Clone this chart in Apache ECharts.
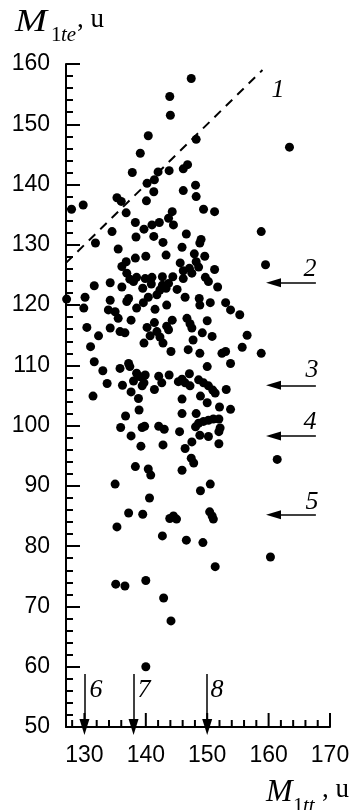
<!DOCTYPE html>
<html>
<head>
<meta charset="utf-8">
<script src="https://cdn.jsdelivr.net/npm/echarts@6/dist/echarts.min.js"></script>
<style>
    html, body { margin: 0; padding: 0; background: #fff; }
    #chart { width: 355px; height: 810px; }
</style>
</head>
<body>
<div id="chart"></div>
<script>
// M1tt (x) , M1te (y)
const points = [
    [147.4, 157.6], [143.9, 154.6], [144.0, 151.5], [140.4, 148.1], [148.2, 147.5], [163.4, 146.2],
    [139.1, 145.2], [137.8, 142.0], [142.0, 142.1], [143.8, 142.3], [146.1, 142.6], [146.8, 143.3],
    [140.2, 140.2], [141.4, 140.8], [141.3, 138.8], [146.1, 139.0], [148.1, 139.9], [148.2, 138.0],
    [135.3, 137.8], [136.0, 137.2], [140.1, 137.3], [127.9, 135.9], [129.8, 136.6], [149.4, 135.9],
    [151.2, 135.5], [136.8, 135.3], [144.3, 135.5], [143.7, 134.4], [142.2, 133.7], [144.5, 133.3],
    [138.3, 133.7], [141.0, 133.3], [139.7, 132.6], [134.5, 132.2], [158.8, 132.2], [146.6, 131.8],
    [141.3, 131.4], [138.4, 131.3], [142.8, 130.4], [149.0, 130.9], [148.8, 130.3], [131.8, 130.3],
    [145.9, 129.6], [135.5, 129.3], [143.3, 128.3], [147.9, 128.5], [149.6, 128.1], [140.0, 128.1],
    [138.3, 127.8], [136.8, 127.2], [145.6, 127.0], [148.2, 127.2], [159.5, 126.7], [136.1, 126.4],
    [148.6, 126.3], [147.1, 126.1], [146.1, 125.7], [151.2, 125.9], [147.5, 125.3], [136.9, 125.3],
    [137.4, 124.3], [138.5, 124.6], [139.9, 124.4], [141.0, 124.6], [142.7, 124.7], [144.4, 124.7],
    [146.1, 124.4], [149.7, 124.6], [138.0, 123.9], [150.2, 123.9], [131.6, 123.2], [134.2, 123.7],
    [140.9, 123.5], [142.7, 123.3], [143.7, 123.6], [151.7, 123.0], [136.1, 123.0], [139.5, 122.8],
    [142.3, 122.5], [143.3, 122.8], [145.1, 122.6], [141.8, 121.7], [140.4, 121.3], [130.1, 121.3],
    [137.2, 121.1], [146.4, 121.3], [148.7, 121.1], [127.1, 121.0], [134.2, 120.8], [136.9, 120.6],
    [139.6, 120.4], [143.4, 120.0], [148.8, 120.0], [150.5, 120.4], [153.0, 120.4], [129.9, 119.5],
    [133.9, 119.2], [138.5, 119.5], [141.5, 119.3], [135.0, 118.9], [153.8, 119.2], [155.3, 118.4],
    [135.5, 117.8], [137.6, 117.5], [144.3, 117.5], [146.7, 117.8], [150.0, 117.4], [141.4, 117.1],
    [143.4, 116.5], [147.2, 116.9], [130.4, 116.3], [134.2, 116.2], [140.2, 116.3], [147.5, 116.2],
    [135.8, 115.6], [136.6, 115.4], [141.8, 115.6], [143.7, 115.9], [149.2, 115.4], [132.3, 114.9],
    [140.7, 114.9], [142.3, 114.7], [150.8, 114.8], [156.5, 115.0], [147.7, 114.2], [142.8, 113.7],
    [139.7, 113.7], [131.0, 113.1], [155.7, 113.0], [146.9, 112.6], [144.1, 112.3], [148.8, 112.0],
    [152.4, 112.0], [153.0, 112.3], [158.8, 112.0], [131.6, 110.6], [153.8, 110.3], [135.8, 109.5],
    [137.2, 110.3], [137.4, 109.8], [133.0, 109.1], [150.0, 109.8], [138.5, 108.7], [139.9, 108.4],
    [139.1, 108.1], [142.1, 108.2], [143.8, 108.4], [147.1, 108.6], [133.7, 107.0], [136.2, 106.7],
    [137.6, 105.6], [138.0, 107.4], [139.4, 106.6], [139.7, 107.1], [142.6, 107.1], [145.3, 107.3],
    [145.9, 107.7], [146.4, 107.1], [147.2, 106.6], [148.6, 107.6], [149.4, 107.1], [150.2, 106.6],
    [150.9, 105.9], [151.3, 105.4], [131.4, 104.9], [138.8, 104.5], [141.4, 106.0], [148.9, 104.9],
    [153.1, 106.0], [150.0, 103.8], [152.0, 103.1], [153.8, 102.7], [145.9, 104.4], [138.9, 102.6],
    [136.7, 101.6], [145.9, 102.0], [148.2, 102.0], [135.9, 99.7], [139.4, 99.7], [139.8, 99.9],
    [142.1, 99.9], [143.0, 99.4], [145.5, 99.0], [148.1, 99.8], [148.6, 100.4], [149.4, 100.7],
    [150.2, 100.9], [151.0, 101.1], [151.9, 101.1], [152.1, 99.6], [151.9, 99.0], [148.8, 98.4],
    [150.2, 98.2], [137.6, 98.3], [147.5, 97.3], [139.2, 96.6], [142.8, 96.8], [151.9, 97.0],
    [146.4, 96.2], [161.4, 94.4], [147.4, 94.6], [147.8, 93.8], [138.3, 93.2], [140.4, 92.8],
    [140.8, 91.8], [145.9, 92.6], [135.0, 90.3], [150.5, 90.3], [148.9, 89.2], [140.6, 88.0],
    [137.2, 85.5], [139.5, 85.3], [143.9, 84.6], [144.5, 85.0], [145.0, 84.5], [150.4, 85.7],
    [150.8, 85.0], [151.0, 84.5], [135.3, 83.2], [142.7, 81.7], [146.6, 81.0], [149.3, 80.6],
    [160.3, 78.2], [151.3, 76.6], [135.1, 73.7], [136.6, 73.4], [140.0, 74.3], [142.9, 71.4],
    [144.1, 67.6], [140.0, 60.0]
]
const lineOne = [[127, 127], [159, 159]]          // 1 : M1te = M1tt
const levelArrows = [123.7, 106.7, 98.3, 85.2]     // 2..5
const massArrows = [130, 138, 150]                 // 6..8
const xLabels = [130, 140, 150, 160, 170]
const xMinor = [128, 132, 134, 136, 138, 142, 144, 146, 148, 152, 154, 156, 158, 162, 164, 166, 168]

const chart = echarts.init(document.getElementById('chart'))
const serif = 'Liberation Serif, Times New Roman, serif'
const sans = 'Liberation Sans, Arial, sans-serif'
const black = { color: '#000', width: 2 }
const yMin = 50, yMax = 160

const head = (coord, size) => ({ coord, symbol: 'triangle', symbolSize: size })
const arrowData = []
levelArrows.forEach(v => arrowData.push([{ coord: [167.7, v], symbol: 'none' }, head([160.8, v], [9, 15])]))
massArrows.forEach(v => arrowData.push([{ coord: [v, 58.8], symbol: 'none' }, head([v, 50], [10, 16])]))

const italicNum = (text, x, y, size) => ({
    type: 'text', x, y,
    style: { text, fontFamily: serif, fontStyle: 'italic', fontSize: size || 26, fill: '#000', align: 'center', verticalAlign: 'middle' }
})

const option = {
    animation: false,
    grid: { left: 66, right: 25, top: 64, bottom: 83 },
    xAxis: {
        type: 'value', min: 127, max: 170,
        axisLine: { show: true, onZero: false, lineStyle: black },
        axisTick: { show: false },
        axisLabel: { customValues: xLabels, color: '#000', fontSize: 23, fontFamily: sans, margin: 17 },
        splitLine: { show: false }
    },
    yAxis: {
        type: 'value', min: yMin, max: yMax, interval: 10,
        axisLine: { show: true, onZero: false, lineStyle: black },
        axisTick: { inside: true, length: 14, lineStyle: black },
        minorTick: { show: true, splitNumber: 5, length: 7, lineStyle: black },
        axisLabel: { color: '#000', fontSize: 23, fontFamily: sans, margin: 16 },
        splitLine: { show: false }
    },
    series: [{
        type: 'scatter',
        data: points,
        symbolSize: 9,
        itemStyle: { color: '#000', opacity: 1 }
    }, {
        type: 'line',
        data: lineOne,
        symbol: 'none',
        lineStyle: { color: '#000', width: 2, type: [9, 7] }
    }, {
        type: 'scatter',
        data: [],
        markLine: {
            silent: true,
            label: { show: false },
            lineStyle: { color: '#000', width: 1.5, type: 'solid' },
            itemStyle: { color: '#000' },
            data: arrowData
        }
    }],
    graphic: [
        { type: 'text', x: 15, y: 7, scaleX: 1.2, style: { text: 'M', fontFamily: serif, fontStyle: 'italic', fontSize: 32, fill: '#000' } },
        { type: 'text', x: 51, y: 25, style: { text: '1', fontFamily: serif, fontSize: 21, fill: '#000' } },
        { type: 'text', x: 61, y: 25, style: { text: 'te', fontFamily: serif, fontStyle: 'italic', fontSize: 21, fill: '#000' } },
        { type: 'text', x: 77, y: 6, style: { text: ', u', fontFamily: serif, fontSize: 27, fill: '#000' } },

        { type: 'text', x: 266, y: 777, style: { text: 'M', fontFamily: serif, fontStyle: 'italic', fontSize: 32, fill: '#000' } },
        { type: 'text', x: 293, y: 796, style: { text: '1', fontFamily: serif, fontSize: 21, fill: '#000' } },
        { type: 'text', x: 303, y: 796, style: { text: 'tt', fontFamily: serif, fontStyle: 'italic', fontSize: 21, fill: '#000' } },
        { type: 'text', x: 322, y: 776, style: { text: ', u', fontFamily: serif, fontSize: 27, fill: '#000' } },

        italicNum('1', 278, 90),
        italicNum('2', 310, 269),
        italicNum('3', 312, 370),
        italicNum('4', 310, 422),
        italicNum('5', 312, 502),
        italicNum('6', 96, 690),
        italicNum('7', 144, 690),
        italicNum('8', 217, 690)
    ]
}
chart.setOption(option)

// x ticks: placed through the axis scale, 14 px long at labels, 7 px between
const tickRect = (v, len) => {
    const p = chart.convertToPixel({ xAxisIndex: 0, yAxisIndex: 0 }, [v, yMin])
    return { type: 'rect', z: 100, shape: { x: p[0] - 1, y: p[1] - len, width: 2, height: len }, style: { fill: '#000' } }
}
const ticks = xLabels.map(v => tickRect(v, 14)).concat(xMinor.map(v => tickRect(v, 7)))
chart.setOption({ graphic: option.graphic.concat(ticks) })
</script>
</body>
</html>
